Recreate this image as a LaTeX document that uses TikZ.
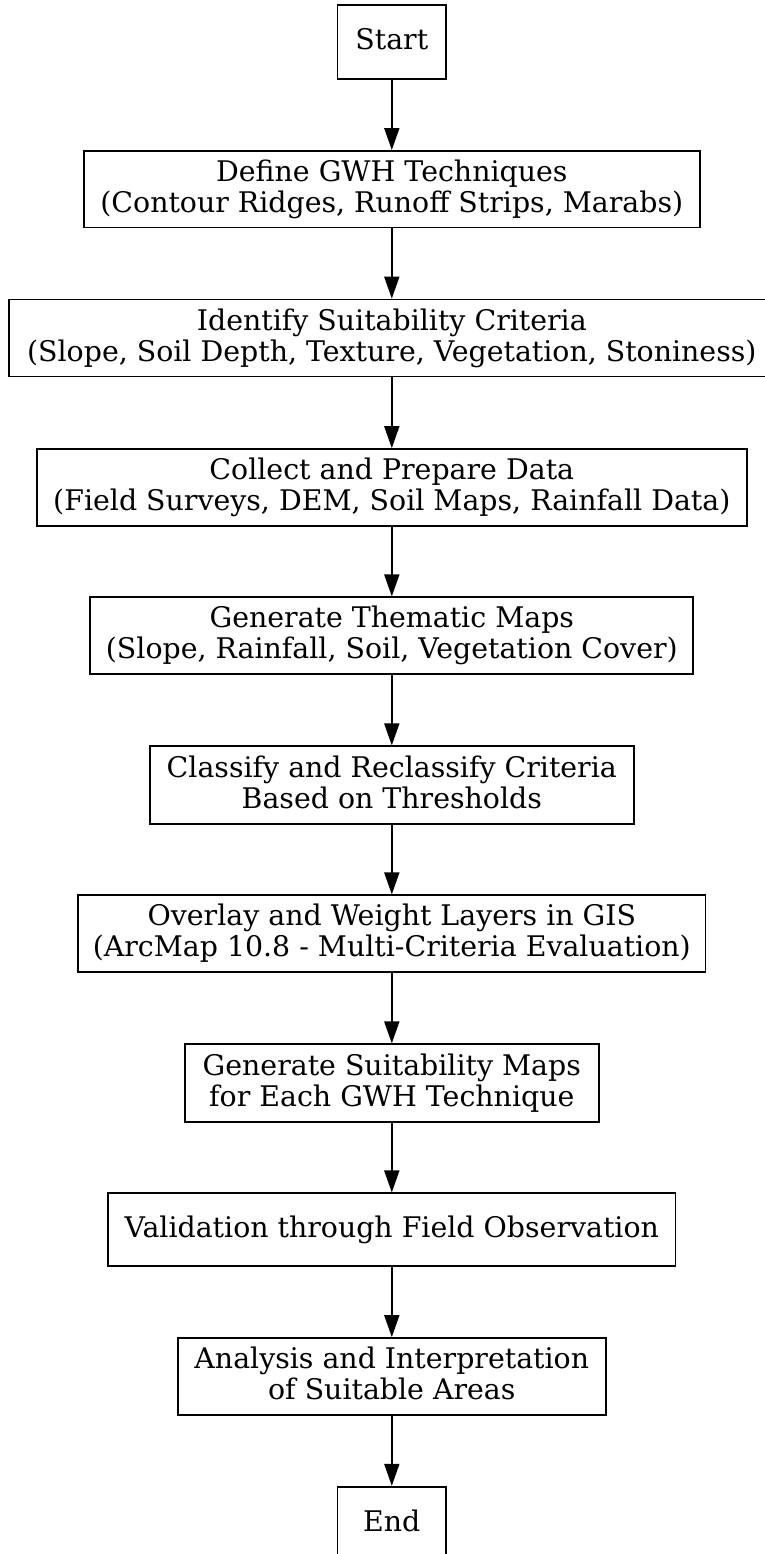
\documentclass[tikz,border=0pt]{standalone}
\usepackage{fontspec}
\setmainfont{DejaVu Serif}
\usetikzlibrary{arrows.meta}
\newcommand{\tl}{\rule{0pt}{22pt}}
\newcommand{\bl}{\rule[-7pt]{0pt}{7pt}}
\begin{document}
\begin{tikzpicture}[x=1pt,y=-1pt,
  box/.style={draw=black, line width=1.8pt, rectangle, align=center,
    inner sep=0pt, font=\fontsize{28.4pt}{31pt}\selectfont},
  flow/.style={draw=black, line width=1.8pt, -{Triangle[length=22pt,width=15pt]}}]
\useasboundingbox (0,0) rectangle (764,1554);
\node[box, minimum width=108.5pt, minimum height=73.5pt] (start) at (391.8,42) {\tl Start\bl};
\node[box, minimum width=616pt, minimum height=76.5pt] (define) at (391.8,189.2) {\tl Define GWH Techniques\\(Contour Ridges, Runoff Strips, Marabs)\bl};
\node[box, minimum width=765pt, minimum height=77pt] (identify) at (391.8,338) {\tl Identify Suitability Criteria\\(Slope, Soil Depth, Texture, Vegetation, Stoniness)\bl};
\node[box, minimum width=709.7pt, minimum height=76.7pt] (collect) at (391.8,487.4) {\tl Collect and Prepare Data\\(Field Surveys, DEM, Soil Maps, Rainfall Data)\bl};
\node[box, minimum width=603pt, minimum height=77pt] (thematic) at (391.8,635.8) {\tl Generate Thematic Maps\\(Slope, Rainfall, Soil, Vegetation Cover)\bl};
\node[box, minimum width=484pt, minimum height=77.4pt] (classify) at (391.8,785) {\tl Classify and Reclassify Criteria\\Based on Thresholds\bl};
\node[box, minimum width=627.4pt, minimum height=77pt] (overlay) at (391.8,933.8) {\tl Overlay and Weight Layers in GIS\\(ArcMap 10.8 - Multi-Criteria Evaluation)\bl};
\node[box, minimum width=413.6pt, minimum height=77.4pt] (suitmaps) at (391.8,1083) {\tl Generate Suitability Maps\\for Each GWH Technique\bl};
\node[box, minimum width=567.3pt, minimum height=72.7pt] (validation) at (391.8,1229.7) {\tl Validation through Field Observation\bl};
\node[box, minimum width=428.3pt, minimum height=77.3pt] (analysis) at (391.8,1376.7) {\tl Analysis and Interpretation\\of Suitable Areas\bl};
\node[box, minimum width=108.7pt, minimum height=73.5pt] (end) at (391.8,1523.5) {\tl End\bl};
\draw[flow] (start) -- (define);
\draw[flow] (define) -- (identify);
\draw[flow] (identify) -- (collect);
\draw[flow] (collect) -- (thematic);
\draw[flow] (thematic) -- (classify);
\draw[flow] (classify) -- (overlay);
\draw[flow] (overlay) -- (suitmaps);
\draw[flow] (suitmaps) -- (validation);
\draw[flow] (validation) -- (analysis);
\draw[flow] (analysis) -- (end);
\end{tikzpicture}
\end{document}
